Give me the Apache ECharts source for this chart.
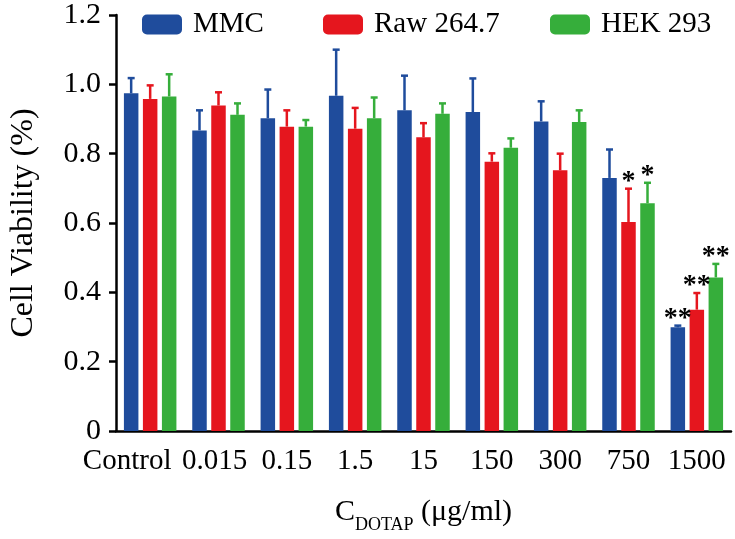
<!DOCTYPE html>
<html>
<head>
<meta charset="utf-8">
<script src="https://cdn.jsdelivr.net/npm/echarts@6/dist/echarts.min.js"></script>
<style>
html,body{margin:0;padding:0;background:#fff;}
#chart{width:735px;height:539px;}
</style>
</head>
<body>
<div id="chart"></div>
<script>
// ---- data ----
var categories = ['Control', '0.015', '0.15', '1.5', '15', '150', '300', '750', '1500'];
var seriesNames = ['MMC', 'Raw 264.7', 'HEK 293'];
var mmcMean = [0.974, 0.867, 0.902, 0.967, 0.925, 0.920, 0.893, 0.730, 0.299];
var mmcSD   = [0.044, 0.058, 0.083, 0.133, 0.100, 0.097, 0.058, 0.082, 0.005];
var rawMean = [0.958, 0.939, 0.878, 0.872, 0.847, 0.777, 0.752, 0.603, 0.350];
var rawSD   = [0.039, 0.038, 0.047, 0.060, 0.041, 0.024, 0.048, 0.096, 0.048];
var hekMean = [0.965, 0.912, 0.878, 0.902, 0.915, 0.817, 0.891, 0.657, 0.443];
var hekSD   = [0.064, 0.033, 0.019, 0.060, 0.030, 0.027, 0.034, 0.059, 0.039];
var mmcSig  = ['', '', '', '', '', '', '', '', '**'];
var rawSig  = ['', '', '', '', '', '', '', '*', '**'];
var hekSig  = ['', '', '', '', '', '', '', '*', '**'];
var yTicks = [0, 0.2, 0.4, 0.6, 0.8, 1.0, 1.2];

var colors = ['#1f4c9c', '#e5161e', '#36ae3b'];
var FONT = '"Liberation Serif", "Times New Roman", serif';
var BAR_W = 14.5, BAR_GAP = 4.5;

var means = [mmcMean, rawMean, hekMean];
var sds = [mmcSD, rawSD, hekSD];
var sigs = [mmcSig, rawSig, hekSig];

var chart = echarts.init(document.getElementById('chart'), null, {renderer: 'canvas'});

var series = [];
for (var s = 0; s < 3; s++) {
  series.push({
    name: seriesNames[s],
    type: 'bar',
    data: means[s],
    barWidth: BAR_W,
    barGap: (BAR_GAP / BAR_W * 100) + '%',
    itemStyle: {color: colors[s]},
    z: 2
  });
}
for (var s2 = 0; s2 < 3; s2++) {
  (function (si) {
    var d = [];
    for (var i = 0; i < categories.length; i++) d.push([i, means[si][i], means[si][i] + sds[si][i]]);
    series.push({
      name: seriesNames[si] + ' err',
      type: 'custom',
      data: d,
      z: 3,
      silent: true,
      encode: {x: 0, y: [1, 2]},
      renderItem: function (params, api) {
        var idx = api.value(0);
        var lo = api.coord([idx, api.value(1)]);
        var hi = api.coord([idx, api.value(2)]);
        var x = lo[0] + (si - 1) * (BAR_W + BAR_GAP);
        var c = colors[si];
        var children = [
          {type: 'line', shape: {x1: x, y1: lo[1], x2: x, y2: hi[1]}, style: {stroke: c, lineWidth: 2.5}},
          {type: 'line', shape: {x1: x - 3.5, y1: hi[1], x2: x + 3.5, y2: hi[1]}, style: {stroke: c, lineWidth: 2.5}}
        ];
        var sg = sigs[si][params.dataIndex];
        if (sg) {
          children.push({type: 'text', style: {text: sg, x: x, y: hi[1] - 7, align: 'center', verticalAlign: 'middle', font: 'bold 28px ' + FONT, fill: '#000'}});
        }
        return {type: 'group', children: children};
      }
    });
  })(s2);
}

var legendLefts = [137, 318, 545];
var legends = [];
for (var k = 0; k < 3; k++) {
  legends.push({
    data: [seriesNames[k]],
    top: 5,
    left: legendLefts[k],
    itemWidth: 40,
    itemHeight: 20,
    icon: 'roundRect',
    textStyle: {fontFamily: FONT, fontSize: 29, color: '#000', padding: [0, 0, 0, 6]}
  });
}

var labelBase = {fontFamily: FONT, fontSize: 29, color: '#000'};
chart.setOption({
  animation: false,
  backgroundColor: '#fff',
  color: colors,
  grid: {left: 103, right: 4, top: 13, bottom: 107, containLabel: false},
  legend: legends,
  xAxis: {
    type: 'category',
    data: categories,
    axisLine: {lineStyle: {color: '#000', width: 2.5}},
    axisTick: {alignWithLabel: true, length: 11, lineStyle: {color: '#000', width: 2.5}},
    axisLabel: {
      fontFamily: FONT, fontSize: 29, color: '#000', margin: 16, interval: 0, hideOverlap: false,
      formatter: function (v, i) {
        if (i === 0) return '{l0|' + v + '}';
        if (i === 1) return '{l1|' + v + '}';
        return v;
      },
      rich: {
        l0: Object.assign({padding: [0, 46, 0, 0]}, labelBase),
        l1: Object.assign({padding: [0, 8, 0, 0]}, labelBase)
      }
    },
    name: '{c|C}{s|DOTAP}{c| (μg/ml)}',
    nameLocation: 'middle',
    nameGap: 59,
    nameTextStyle: {
      rich: {
        c: {fontFamily: FONT, fontSize: 30, color: '#000', verticalAlign: 'middle', lineHeight: 44},
        s: {fontFamily: FONT, fontSize: 18, color: '#000', verticalAlign: 'bottom', lineHeight: 18}
      }
    }
  },
  yAxis: {
    type: 'value',
    min: 0,
    max: 1.2,
    interval: 0.2,
    splitLine: {show: false},
    axisLine: {show: true, lineStyle: {color: '#000', width: 2.5}},
    axisTick: {show: true, length: 7, lineStyle: {color: '#000', width: 2.5}},
    axisLabel: {
      fontFamily: FONT, fontSize: 30, color: '#000', margin: 15,
      formatter: function (v) { return v === 0 ? '0' : v.toFixed(1); }
    },
    name: 'Cell Viability (%)',
    nameLocation: 'middle',
    nameRotate: 90,
    nameGap: 76,
    nameTextStyle: {fontFamily: FONT, fontSize: 32, color: '#000'}
  },
  series: series
});
</script>
</body>
</html>
